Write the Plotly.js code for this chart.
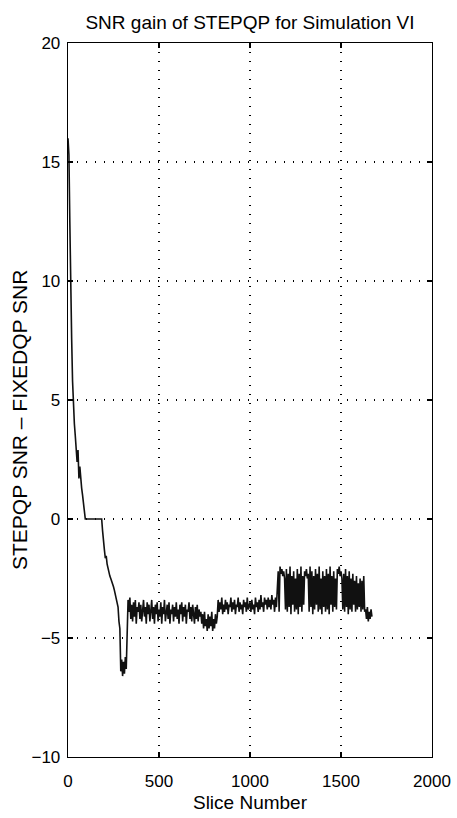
<!DOCTYPE html>
<html>
<head>
<meta charset="utf-8">
<script src="https://cdn.plot.ly/plotly-3.0.1.min.js"></script>
<style>html,body{margin:0;padding:0;background:#fff;}#chart{width:457px;height:818px;}</style>
</head>
<body>
<div id="chart"></div>
<script>
// Slice numbers are sampled every 5 slices
const sliceStep = 5;

// SNR gain (STEPQP SNR - FIXEDQP SNR)
const gain = [
  // 0-95
  16.0, 15.3, 12.5, 9.0, 7.6, 5.8, 4.6, 4.0, 3.5, 3.0, 2.4, 2.9, 1.7, 2.2, 1.5, 1.3, 1.0, 0.65, 0.3, 0.0,
  // 100-195
  0, 0, 0, 0, 0, 0, 0, 0, 0, 0, 0, 0, 0, 0, 0, 0, 0, 0, -0.5, -1.1,
  // 200-295
  -1.3, -1.65, -1.55, -1.9, -2.1, -2.2, -2.4, -2.5, -2.6, -2.75, -2.85, -3.0, -3.15, -3.3, -3.5, -3.7, -4.3, -4.6, -6.4, -5.9,
  // 300-395
  -6.6, -6.0, -6.5, -5.8, -6.3, -4.0, -3.4, -3.9, -3.3, -4.2, -3.6, -4.3, -3.5, -4.1, -3.4, -4.4, -3.7, -3.9, -3.5, -4.2,
  // 400-495
  -3.6, -4.3, -3.8, -3.4, -4.1, -3.7, -4.4, -3.5, -4.0, -3.6, -4.3, -3.9, -3.4, -4.2, -3.7, -4.4, -3.6, -4.0, -3.5, -4.3,
  // 500-595
  -3.8, -4.1, -3.5, -4.4, -3.7, -4.0, -3.4, -4.3, -3.9, -3.6, -4.2, -3.5, -4.4, -3.8, -4.0, -3.6, -4.3, -3.7, -4.1, -3.5,
  // 600-695
  -4.2, -3.8, -4.4, -3.6, -4.0, -3.5, -4.3, -3.7, -4.1, -3.6, -4.4, -3.8, -3.9, -3.5, -4.2, -3.7, -4.3, -3.6, -4.0, -4.4,
  // 700-795
  -3.7, -4.2, -3.6, -4.3, -3.8, -4.1, -3.9, -4.4, -4.0, -4.6, -3.9, -4.5, -4.2, -4.7, -4.0, -4.6, -4.1, -4.5, -3.9, -4.7,
  // 800-895
  -4.2, -4.6, -4.0, -4.4, -4.1, -3.4, -3.9, -3.5, -3.8, -3.3, -4.0, -3.6, -3.9, -3.4, -3.8, -3.5, -4.0, -3.6, -3.7, -3.3,
  // 900-995
  -3.9, -3.5, -3.8, -3.4, -4.0, -3.6, -3.7, -3.3, -3.9, -3.5, -3.8, -3.6, -4.0, -3.4, -3.7, -3.5, -3.9, -3.3, -3.8, -3.6,
  // 1000-1095
  -3.5, -3.9, -3.4, -3.8, -3.6, -4.0, -3.3, -3.7, -3.5, -3.9, -3.4, -3.8, -3.2, -3.7, -3.5, -3.9, -3.3, -3.6, -3.4, -3.8,
  // 1100-1195
  -3.3, -3.7, -3.4, -3.8, -3.2, -3.6, -3.4, -3.9, -3.3, -3.7, -3.1, -2.2, -3.9, -2.0, -2.3, -2.1, -2.4, -2.2, -2.5, -3.8,
  // 1200-1295
  -2.1, -3.9, -2.3, -3.7, -2.0, -4.0, -2.4, -3.6, -2.2, -3.9, -2.5, -3.8, -2.1, -4.0, -2.3, -3.7, -2.0, -3.9, -2.4, -3.6,
  // 1300-1395
  -2.2, -2.4, -2.1, -2.5, -2.3, -3.9, -2.0, -3.7, -2.2, -4.0, -2.4, -3.8, -2.1, -3.6, -2.3, -3.9, -2.0, -3.8, -2.5, -4.0,
  // 1400-1495
  -2.2, -3.7, -2.4, -3.9, -2.1, -3.8, -2.3, -4.0, -2.0, -3.6, -2.4, -3.9, -2.2, -3.7, -2.5, -3.8, -2.1, -2.3, -2.0, -2.4,
  // 1500-1595
  -2.2, -2.5, -3.8, -2.3, -3.9, -2.1, -3.7, -2.4, -4.0, -2.2, -3.8, -2.5, -3.9, -2.3, -3.6, -2.6, -3.9, -2.4, -3.8, -2.7,
  // 1600-1670
  -3.7, -2.5, -3.9, -2.6, -3.8, -2.4, -3.9, -3.8, -4.2, -3.7, -4.3, -3.9, -4.2, -3.8, -4.1
];
const slices = gain.map((_, i) => i * sliceStep);

const xTicks = [0, 500, 1000, 1500, 2000];
const yTicks = [-10, -5, 0, 5, 10, 15, 20];

const titleText = 'SNR gain of STEPQP for Simulation VI';
const xTitle = 'Slice Number';
const yTitle = 'STEPQP SNR \u2013 FIXEDQP SNR';

const font = 'Liberation Sans, Arial, Helvetica, sans-serif';

const trace = {
  x: slices, y: gain, type: 'scatter', mode: 'lines',
  line: {color: '#111', width: 1.6},
  hoverinfo: 'skip'
};

const axisCommon = {
  showline: true, mirror: 'ticks', linecolor: '#000', linewidth: 1.3,
  ticks: 'inside', ticklen: 5, tickcolor: '#000', tickwidth: 1.2,
  showgrid: true, gridcolor: '#000', gridwidth: 1.3, griddash: '1.3px,7.7px',
  zeroline: false,
  tickfont: {family: font, size: 17, color: '#000'}
};

const layout = {
  width: 457, height: 818,
  paper_bgcolor: '#fff', plot_bgcolor: '#fff',
  margin: {l: 68, r: 25, t: 43, b: 61},
  showlegend: false,
  font: {family: font, color: '#000'},
  title: {
    text: titleText, font: {family: font, size: 19, color: '#000'},
    x: 0.5, xref: 'paper', xanchor: 'center',
    y: 1 - 22 / 818, yref: 'container', yanchor: 'middle'
  },
  xaxis: Object.assign({}, axisCommon, {
    range: [0, 2000], tickmode: 'array', tickvals: xTicks,
    ticklabelstandoff: 8,
    title: {text: xTitle, font: {family: font, size: 19, color: '#000'}, standoff: 6}
  }),
  yaxis: Object.assign({}, axisCommon, {
    range: [-10, 20], tickmode: 'array', tickvals: yTicks,
    ticklabelstandoff: 3
  }),
  annotations: [{
    text: yTitle, textangle: -90, showarrow: false,
    xref: 'paper', yref: 'paper',
    x: (19 - 68) / 364, y: (757 - 420) / 714,
    xanchor: 'center', yanchor: 'middle',
    font: {family: font, size: 21, color: '#000'}
  }]
};

Plotly.newPlot('chart', [trace], layout, {displayModeBar: false, staticPlot: true});
</script>
</body>
</html>
